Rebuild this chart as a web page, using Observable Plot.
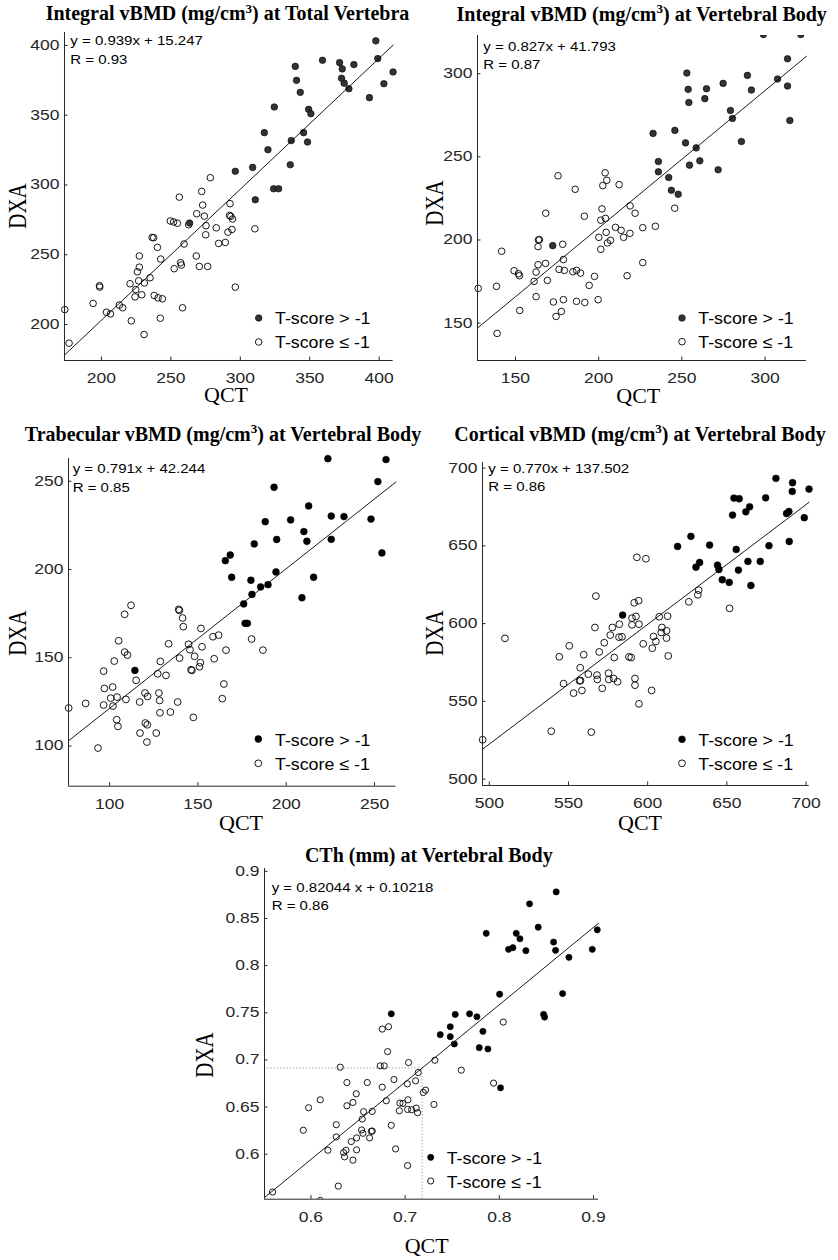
<!DOCTYPE html>
<html><head><meta charset="utf-8">
<script src="https://cdn.jsdelivr.net/npm/d3@7"></script>
<script src="https://cdn.jsdelivr.net/npm/@observablehq/plot@0.6"></script>
<style>
body{margin:0;background:#fff;}
#fig{position:relative;width:838px;height:1260px;overflow:hidden;background:#fff;}
</style></head><body><div id="fig"></div>
<script>
// ---------- data ----------
const titles = [
  ["Integral vBMD (mg/cm", "3", ") at Total Vertebra"],
  ["Integral vBMD (mg/cm", "3", ") at Vertebral Body"],
  ["Trabecular vBMD (mg/cm", "3", ") at Vertebral Body"],
  ["Cortical vBMD (mg/cm", "3", ") at Vertebral Body"],
  ["CTh (mm) at Vertebral Body", "", ""]
];
const equations = ["y = 0.939x + 15.247", "y = 0.827x + 41.793", "y = 0.791x + 42.244", "y = 0.770x + 137.502", "y = 0.82044 x + 0.10218"];
const rValues = ["R = 0.93", "R = 0.87", "R = 0.85", "R = 0.86", "R = 0.86"];
const legendLabels = ["T-score > -1", "T-score \u2264 -1"];
const xLabel = "QCT", yLabel = "DXA";

const p1Fit = [0.939, 15.247];
const p2Fit = [0.827, 41.793];
const p3Fit = [0.791, 42.244];
const p4Fit = [0.770, 137.502];
const p5Fit = [0.82044, 0.10218];

const p1XDomain = [173.4, 410.1], p1YDomain = [174.2, 409.3];
const p2XDomain = [127.2, 324.9], p2YDomain = [127.5, 323];
const p3XDomain = [76.7, 262.1], p3YDomain = [77.2, 262.9];
const p4XDomain = [495.7, 702.0], p4YDomain = [495.9, 703.6];
const p5XDomain = [0.5507, 0.9053], p5YDomain = [0.5523, 0.903];

const p1XTicks = [200, 250, 300, 350, 400], p1YTicks = [200, 250, 300, 350, 400];
const p2XTicks = [150, 200, 250, 300], p2YTicks = [150, 200, 250, 300];
const p3XTicks = [100, 150, 200, 250], p3YTicks = [100, 150, 200, 250];
const p4XTicks = [500, 550, 600, 650, 700], p4YTicks = [500, 550, 600, 650, 700];
const p5XTicks = [0.6, 0.7, 0.8, 0.9], p5YTicks = [0.6, 0.65, 0.7, 0.75, 0.8, 0.85, 0.9];
const p5Cut = [0.718, 0.6915];

const p1Filled = [[397.6,403.3],[399,390.6],[410,381],[403.4,372.6],[393,362.6],[381.8,386.3],[378.2,369],[374.8,373],[372.9,376.5],[373.4,383.2],[371.5,387.7],[359.2,389.4],[339.6,385],[340.5,375],[343.2,366.4],[349.2,354.2],[350.8,351.1],[345.6,337.5],[348.4,330.8],[336.7,331.8],[336,314.5],[324.5,355.9],[317.3,337.5],[319.9,325.3],[308.9,312.6],[296.4,309.8],[324,297.3],[327.6,297.3],[310.8,289.4],[263.5,272.7]];
const p1Hollow = [[278.4,305.2],[272.2,295.4],[256.1,291.3],[272.9,285.6],[268.6,279.4],[274.1,277.7],[292.6,286.6],[292.3,278.2],[293.2,277.5],[249.6,274.2],[252,273.5],[254.7,272.6],[262.8,271.5],[275.3,270.8],[282.7,269.3],[294.4,275.6],[310.5,268.6],[294,268.1],[291.1,266.2],[275.1,264.3],[236.5,262.4],[237.6,262.2],[259.5,257.7],[284.4,258.1],[289.2,258.8],[240.3,255.3],[227.3,249.1],[268.3,249.1],[242.7,246.9],[257,244.3],[257.6,242.6],[270.5,241.6],[276.5,241.6],[252.4,240],[227.3,241.1],[225.9,237.8],[235,233.5],[226.8,231.3],[230.9,229.8],[220.6,229.2],[198.6,227.8],[198.8,226.8],[296.4,226.8],[224.7,225],[229,221.3],[224.2,219.8],[238,220.8],[240.8,219.1],[243.9,218.4],[194,215.1],[212.9,213.9],[215.3,212],[258.4,212],[203.6,208.8],[206.5,207.6],[173.6,210.7],[221.5,202.6],[242.4,204.5],[230.7,192.8],[176.7,186.6]];

const p2Filled = [[299,323.6],[321.5,323.6],[313.5,309],[307.5,296.8],[313.5,292.6],[314.9,271.9],[289.4,299],[291.8,290.2],[274.8,294.2],[264.8,291],[263.8,285],[253,300.4],[253.8,290.6],[254.2,282.7],[279.2,277.9],[280.4,273.1],[285.8,259.2],[258.6,255.4],[252.2,258.4],[245.8,265.9],[232.7,264.1],[235.9,247.2],[235.9,241],[260.8,247.6],[254.6,245],[271.8,242.2],[242.1,237.6],[243.7,229.9],[247.8,227.5],[172.4,196.6]];
const p2Hollow = [[175.6,238.6],[185.9,230.5],[203.9,240.4],[204.9,235.9],[202.5,232.7],[212.3,233.3],[168.2,216.1],[191.4,214.3],[202,218.7],[201.3,211.9],[204.1,213],[218.9,220.5],[221.9,216.1],[245.7,219.1],[210.1,207.6],[213.5,205.8],[204.5,204.6],[200.1,201.6],[215,201.6],[218.8,204],[226.5,207.4],[234.1,208.2],[207.1,199.8],[205.3,198.2],[201.3,194.4],[178.4,197.4],[163.8,200],[164.4,200.2],[163.6,196],[141.7,193.2],[168.1,185.9],[163.6,185.1],[178.8,188.2],[226.5,186.4],[149.2,181.5],[151.8,179.7],[152.4,178.5],[162.4,180.7],[176.2,182.3],[179.4,181.7],[184.5,180.9],[186.7,181.7],[189.1,180.1],[197.5,178.1],[217.1,178.5],[161.2,175.1],[169.2,175.7],[127.6,170.9],[138.6,172.1],[194.3,172.7],[162.4,165.9],[172.8,162.7],[178.8,164.1],[186.7,163.1],[191.7,162.4],[199.7,164.1],[152.6,157.6],[177.6,157],[174.4,154],[139,143.8]];

const p3Filled = [[223.6,262.8],[256.5,262.3],[251.9,249.8],[248,228.6],[254.2,209.4],[225.5,230.3],[232.7,230],[225.5,217.1],[212.7,236],[210,221.5],[211.7,216],[202.5,228.1],[215.5,195.6],[208.9,184],[193.1,246.6],[188.1,227.1],[194.6,217],[181.9,214.5],[194.2,198.6],[189.7,191.4],[185.5,190.1],[180.6,185.9],[180,193.9],[175.9,180.5],[168.3,208.2],[165.5,205],[169.1,195.6],[176.7,169.5],[178,169.5],[114.3,142.8]];
const p3Hollow = [[108.5,174.6],[112.1,179.7],[139.1,177.4],[139.5,176.8],[141.3,172.5],[141.7,167.6],[151.7,166.6],[158.5,161.9],[161.7,162.8],[180.4,160.6],[186.8,154.3],[133.4,157.9],[144.7,157.6],[152.3,156.2],[165.9,154.3],[105.1,159.6],[108.5,153.2],[110.1,151.5],[102.6,148.1],[96.6,142.4],[128.7,147.9],[139.6,149.8],[145.5,154.5],[148.1,150.8],[159.2,149.4],[151.4,147.2],[150.9,144.9],[146.1,143.2],[146.6,142.8],[127.2,140.9],[131.9,140],[115,137.2],[164.7,135.1],[97,132.6],[101.7,133.4],[100.6,127.1],[104.2,127.7],[109.2,126.4],[120,130],[121.5,128.1],[127.9,130],[128.3,125.8],[163.8,126.8],[86.4,124.1],[96.6,123.2],[101.9,122.6],[117,124.9],[138.5,124.9],[76.8,121.5],[104,114.9],[104.7,111.1],[128.5,118.8],[134.4,119.2],[147.4,116.2],[120.2,113],[121.3,112],[117.2,107.3],[126.4,107.3],[121.1,102.2],[93.4,98.8]];

const p4Filled = [[681,693.4],[691.5,690.6],[691.3,685],[701.9,686.5],[698.9,668.1],[689.2,672.1],[687.7,670.8],[689.4,652.8],[674.5,680.9],[664.4,675.1],[662,671.9],[654.5,680.7],[657.8,680.3],[653.6,669.8],[676.6,650.1],[655.9,647.7],[657.3,634.4],[663.3,640],[671.1,640],[665.2,624.5],[651.5,626.5],[647.1,628.2],[644.1,637.6],[645,634.8],[639.1,650.5],[627.3,656.1],[618.9,649.6],[632.8,639.3],[630.5,636.3],[584.2,605.5]];
const p4Hollow = [[593.2,642.6],[598.9,641.7],[567.3,617.7],[591.5,613.4],[594.3,614.7],[626,614],[632.2,621.5],[631.7,618.5],[651.7,609.8],[607.3,604.4],[612.6,604.8],[592.6,604.6],[590.1,603.5],[566.7,597.5],[577.7,597.5],[582.1,599.6],[590.1,599.2],[594.5,599.6],[576.4,592.6],[581.9,591.3],[583.8,591.5],[609,597.5],[608.6,594.3],[611.9,595.4],[603.7,591.7],[611.9,590.7],[597.2,587],[605.2,588.5],[602.9,584.2],[572.6,587.7],[550.5,585.7],[509.9,590.5],[544.2,578.7],[559.6,580],[569.4,581.8],[578.9,578.2],[588.2,578.6],[589.6,578.2],[613,579.2],[557.4,571.6],[562.5,567.5],[568,566.9],[568.2,564.1],[575.3,568.1],[575.5,564.1],[578.5,564.7],[581,562.6],[557,563.2],[557.6,563.4],[546.9,561.4],[592,564.7],[592,560.4],[553.2,555.3],[558.5,557],[571.3,558.4],[602.5,557],[594.5,548.4],[539.1,530.8],[564.4,530.2],[495.8,525.3]];

const p5Filled = [[0.8604,0.8782],[0.8321,0.8655],[0.8413,0.8408],[0.7861,0.8342],[0.818,0.8342],[0.8219,0.8285],[0.8098,0.8173],[0.8144,0.819],[0.8282,0.8158],[0.8576,0.825],[0.8597,0.8162],[0.8739,0.8088],[0.8987,0.8173],[0.904,0.838],[0.8672,0.7704],[0.8003,0.7697],[0.847,0.7482],[0.8481,0.7454],[0.6853,0.7489],[0.7532,0.7482],[0.7684,0.7489],[0.7762,0.7458],[0.7826,0.7303],[0.7373,0.7268],[0.7479,0.7352],[0.7479,0.7246],[0.7522,0.7169],[0.7787,0.713],[0.7879,0.7116],[0.8013,0.6704]];
const p5Hollow = [[0.6757,0.7327],[0.6824,0.7352],[0.8042,0.7401],[0.6814,0.7088],[0.6311,0.6923],[0.6736,0.6937],[0.6778,0.6937],[0.7037,0.6972],[0.7139,0.6866],[0.7316,0.6996],[0.7596,0.6891],[0.7939,0.6754],[0.6382,0.676],[0.6598,0.676],[0.6757,0.6711],[0.6881,0.6792],[0.7023,0.6746],[0.7111,0.6778],[0.7193,0.6655],[0.7217,0.668],[0.6099,0.6577],[0.6481,0.6641],[0.6446,0.6549],[0.6382,0.6514],[0.68,0.6567],[0.703,0.6577],[0.6945,0.6542],[0.6977,0.6539],[0.7306,0.6528],[0.5975,0.6493],[0.6559,0.6451],[0.6651,0.6454],[0.6938,0.6461],[0.7026,0.6475],[0.7069,0.6472],[0.7118,0.6489],[0.7132,0.644],[0.6545,0.6373],[0.6269,0.6313],[0.5919,0.6254],[0.6853,0.6306],[0.6538,0.6257],[0.6651,0.6246],[0.6641,0.6243],[0.6552,0.6222],[0.6485,0.6173],[0.6623,0.6173],[0.6269,0.6183],[0.6428,0.6134],[0.618,0.6042],[0.6372,0.6042],[0.6485,0.6046],[0.6347,0.6018],[0.6357,0.5972],[0.6446,0.5937],[0.6899,0.6056],[0.7026,0.588],[0.629,0.5662],[0.5593,0.5599],[0.6099,0.551]];

// ---------- layout ----------
const fig = document.getElementById("fig");
const SANS = "Liberation Sans", SERIF = "Liberation Serif";
const AXIS = "#262626";

function stretchTicks(svg, s) {
  svg.querySelectorAll('g[aria-label$="tick label"] text').forEach(t => {
    const w = t.getComputedTextLength();
    t.setAttribute("textLength", w * s);
    t.setAttribute("lengthAdjust", "spacingAndGlyphs");
  });
}

function panel(c) {
  const [L, T, R, B] = c.frame;
  const ml = 48, mr = 14, mt = 10, mb = 36;
  const W = R - L, H = B - T;
  const inside = d => d[0] >= c.xDom[0] && d[0] <= c.xDom[1] && d[1] >= c.yDom[0] && d[1] <= c.yDom[1];
  const fitLine = c.xDom.map(x => ({x, y: c.fit[0] * x + c.fit[1]}));
  const fmt = d => String(d);
  const dotH = {x: d => d[0], y: d => d[1], r: c.r, fill: "none", stroke: "#000", strokeWidth: 0.9};
  const dotF = {x: d => d[0], y: d => d[1], r: c.r, fill: c.fill, stroke: "#000", strokeWidth: 0.6};
  const marks = [
    ...(c.extra || []),
    Plot.dot(c.hollow.filter(inside), dotH),
    Plot.dot(c.hollow.filter(d => !inside(d)), {...dotH, clip: true}),
    Plot.dot(c.filled.filter(inside), dotF),
    Plot.dot(c.filled.filter(d => !inside(d)), {...dotF, clip: true}),
    Plot.line(fitLine, {x: "x", y: "y", stroke: "#000", strokeWidth: 0.9}),
    Plot.ruleX([c.xDom[0]], {stroke: AXIS, strokeWidth: 1}),
    Plot.ruleY([c.yDom[0]], {stroke: AXIS, strokeWidth: 1}),
    Plot.tickX(c.xTicks, {x: d => d, insetTop: H - 3.5, stroke: AXIS}),
    Plot.tickY(c.yTicks, {y: d => d, insetRight: W - 3.5, stroke: AXIS}),
    Plot.axisX(c.xTicks, {tickSize: 0, tickPadding: 12.5, tickFormat: fmt, label: null}),
    Plot.axisY(c.yTicks, {tickSize: 0, tickPadding: 5, tickFormat: fmt, label: null})
  ];
  const svg = Plot.plot({
    width: W + ml + mr, height: H + mt + mb,
    marginLeft: ml, marginRight: mr, marginTop: mt, marginBottom: mb,
    x: {domain: c.xDom}, y: {domain: c.yDom},
    style: {fontFamily: SANS, fontSize: "14px", color: AXIS, background: "transparent", overflow: "visible"},
    marks
  });
  svg.style.position = "absolute";
  svg.style.left = (L - ml) + "px";
  svg.style.top = (T - mt) + "px";
  fig.appendChild(svg);
  stretchTicks(svg, 1.25);
}

const panels = [
  {frame: [64, 32, 392.7, 360], xDom: p1XDomain, yDom: p1YDomain, xTicks: p1XTicks, yTicks: p1YTicks, fit: p1Fit, filled: p1Filled, hollow: p1Hollow, fill: "#333", r: 3.3,
   title: [227.5, 20], eq: [70.3, 45, 64.3], leg: [258.7, 318, 342, 275, 324, 348], qct: [226, 402], dxa: [18.5, 206]},
  {frame: [476.7, 35, 805.7, 360], xDom: p2XDomain, yDom: p2YDomain, xTicks: p2XTicks, yTicks: p2YTicks, fit: p2Fit, filled: p2Filled, hollow: p2Hollow, fill: "#333", r: 3.3,
   title: [641.7, 20.7], eq: [483.3, 51, 69.3], leg: [682, 318, 341.7, 698.3, 324, 347.7], qct: [638.3, 403], dxa: [436, 203]},
  {frame: [68.3, 458.3, 395.7, 786], xDom: p3XDomain, yDom: p3YDomain, xTicks: p3XTicks, yTicks: p3YTicks, fit: p3Fit, filled: p3Filled, hollow: p3Hollow, fill: "#000", r: 3.4,
   title: [223, 440.7], eq: [72.7, 472.7, 491.7], leg: [258.3, 739, 763.3, 275, 746, 770], qct: [241, 830], dxa: [18.5, 633]},
  {frame: [482.3, 461.7, 809, 784.7], xDom: p4XDomain, yDom: p4YDomain, xTicks: p4XTicks, yTicks: p4YTicks, fit: p4Fit, filled: p4Filled, hollow: p4Hollow, fill: "#000", r: 3.4,
   title: [640, 440.7], eq: [488.3, 472.7, 490.7], leg: [682, 739.3, 763.3, 698.3, 746, 770], qct: [640, 830], dxa: [436, 633]},
  {frame: [264.3, 868.3, 598.3, 1199], xDom: p5XDomain, yDom: p5YDomain, xTicks: p5XTicks, yTicks: p5YTicks, fit: p5Fit, filled: p5Filled, hollow: p5Hollow, fill: "#000", r: 3.1,
   title: [428.8, 861.7], eq: [271.7, 891.7, 910], leg: [430.7, 1157.3, 1181, 446.7, 1164, 1187.7], qct: [426.7, 1252.7], dxa: [205.5, 1055],
   extra: [
     Plot.ruleY([p5Cut[1]], {x1: p5XDomain[0], x2: p5Cut[0], stroke: "#9a9a9a", strokeWidth: 1, strokeDasharray: "1.2,2"}),
     Plot.ruleX([p5Cut[0]], {y1: p5YDomain[0], y2: p5Cut[1], stroke: "#9a9a9a", strokeWidth: 1, strokeDasharray: "1.2,2"})
   ]}
];

panels.forEach(panel);

// ---------- text overlay ----------
const ov = d3.select(fig).append("svg")
  .attr("width", 838).attr("height", 1260)
  .style("position", "absolute").style("left", 0).style("top", 0)
  .style("pointer-events", "none");

function txt(x, y, o) {
  const t = ov.append("text")
    .attr("transform", `translate(${x},${y}) scale(${o.sx || 1},1)` + (o.rot ? ` rotate(${o.rot})` : ""))
    .attr("font-family", o.family).attr("font-size", o.size)
    .attr("font-weight", o.weight || "normal")
    .attr("text-anchor", o.anchor || "start").attr("fill", "#000");
  return t;
}

panels.forEach((p, i) => {
  // title
  const [pre, sup, post] = titles[i];
  const t = txt(p.title[0], p.title[1], {family: SERIF, size: 20, weight: "bold", anchor: "middle"});
  t.append("tspan").text(pre);
  if (sup) {
    t.append("tspan").attr("font-size", 13).attr("dy", -7.5).text(sup);
    t.append("tspan").attr("dy", 7.5).text(post);
  }
  // equation
  txt(p.eq[0], p.eq[1], {family: SANS, size: 12, sx: 1.25}).text(equations[i]);
  txt(p.eq[0], p.eq[2], {family: SANS, size: 12, sx: 1.25}).text(rValues[i]);
  // legend
  const [mx, my1, my2, tx, ty1, ty2] = p.leg;
  ov.append("circle").attr("cx", mx).attr("cy", my1).attr("r", p.r).attr("fill", p.fill).attr("stroke", "#000").attr("stroke-width", 0.6);
  ov.append("circle").attr("cx", mx).attr("cy", my2).attr("r", p.r).attr("fill", "none").attr("stroke", "#000").attr("stroke-width", 0.9);
  txt(tx, ty1, {family: SANS, size: 16.5, sx: 1.08}).text(legendLabels[0]);
  txt(tx, ty2, {family: SANS, size: 16.5, sx: 1.08}).text(legendLabels[1]);
  // axis labels
  txt(p.qct[0], p.qct[1], {family: SERIF, size: 20, anchor: "middle", sx: 1.1}).text(xLabel);
  txt(p.dxa[0] + 7, p.dxa[1], {family: SERIF, size: 21, anchor: "middle", sx: 1.15, rot: -90}).text(yLabel);
});
</script></body></html>
